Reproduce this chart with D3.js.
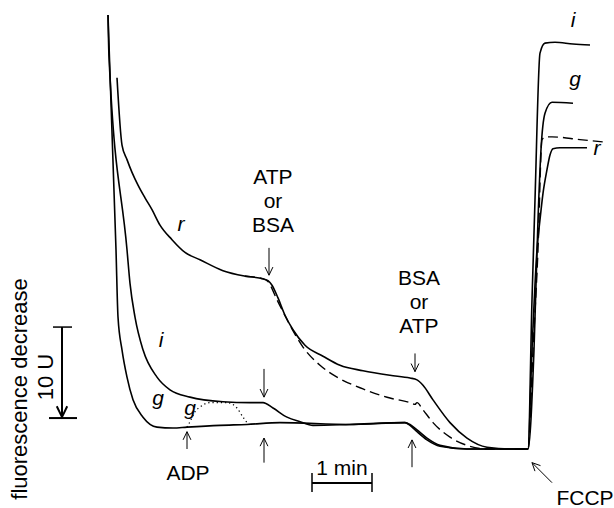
<!DOCTYPE html>
<html>
<head>
<meta charset="utf-8">
<script src="https://cdn.jsdelivr.net/npm/d3@7"></script>
<style>
  body { margin: 0; background: #fff; }
  text { font-family: "Liberation Sans", Arial, sans-serif; fill: #000; }
</style>
</head>
<body>
<svg></svg>
<script>
const width = 614;
const height = 508;

// time in s, fluorescence in U (relative to final baseline)
const traceG = [[0,47.7],[8,21.9],[10,14.5],[14,10.9],[19,7.9],[25,5.4],[35,3.5],[49,2.4],[65,2.3],[79,2.4],
  [112,2.6],[139,2.7],[172,2.9],[242,2.7],[297,2.9],[302,2.7],[309,2.1],[319,1.2],[332,0.4],[359,0],[392,0],
  [419,0],[420,0],[426,10.9],[430,25.2],[433,32.9],[437,36.9],[444,38.1],[465,38.0]];
const traceI = [[0,47.7],[1,43.1],[19,21.9],[22,18.2],[27,14.5],[35,10.9],[49,7.9],[62,6.5],[82,5.7],[115,5.2],
  [142,5.1],[155,5.1],[165,4.5],[179,3.5],[192,3.0],[205,2.6],[242,2.7],[297,2.9],[302,2.6],[309,1.9],[319,1.0],
  [332,0.3],[359,0],[419,0],[420,0],[424,16.4],[427,27.4],[432,43.5],[437,44.6],[447,44.7],[465,44.5],[482,44.4]];
const traceR = [[9,40.8],[14,33.4],[19,31.8],[24,30.4],[30,29.0],[37,27.6],[44,26.3],[52,24.6],[64,23.0],[77,21.6],
  [92,20.8],[115,19.6],[137,19.0],[155,18.7],[160,18.5],[164,18.0],[170,16.6],[177,14.7],[185,13.1],[197,11.4],
  [215,10.2],[232,9.2],[255,8.6],[282,8.1],[302,7.8],[309,7.6],[315,7.0],[325,5.4],[342,2.9],[359,1.2],[379,0.2],
  [402,0],[419,0],[420,0],[424,10.9],[429,21.9],[432,25.2],[435,28.1],[439,30.7],[442,32.3],[445,33.0],[452,33.1],[479,33.1]];
const traceDashed = [[137,19.0],[155,18.7],[160,18.4],[169,16.4],[182,13.6],[195,11.2],[212,9.2],[229,7.9],[255,6.6],
  [282,5.6],[302,5.1],[307,4.9],[309,5.1],[315,4.3],[325,2.9],[342,1.3],[359,0.4],[379,0],[419,0],[420,0],
  [425,10.9],[430,21.9],[434,34.0],[438,34.3],[444,34.3],[472,34.0],[499,33.7]];
const traceDotted = [[79,2.4],[82,3.0],[87,4.1],[92,4.6],[102,5.1],[119,5.1],[129,4.5],[135,3.5],[139,2.9]];

// additions: time, U from, U to, label lines
const arrowsDown = [
  { t: 161, from: 22.1, to: 19.1, label: ["ATP", "or", "BSA"], top: 184 },
  { t: 307, from: 10.5, to: 8.5, label: ["BSA", "or", "ATP"], top: 285 },
  { t: 156, from: 8.8, to: 5.7 }
];
const arrowsUp = [
  { t: 79, from: 0, to: 1.9, label: "ADP" },
  { t: 156, from: -1.5, to: 1.2 },
  { t: 304, from: -2.0, to: 1.0 }
];
const curveLabels = [
  { text: "r", t: 73, u: 24.0 }, { text: "i", t: 53, u: 11.2 }, { text: "g", t: 50, u: 4.8 },
  { text: "g", t: 82, u: 3.7 }, { text: "i", t: 465, u: 46.4 }, { text: "g", t: 467, u: 39.9 },
  { text: "r", t: 489, u: 32.3 }
];

const x = d3.scaleLinear().domain([0, 500]).range([108, 608]);
const y = d3.scaleLinear().domain([0, 48]).range([449, 12.2]);

const svg = d3.select('svg')
  .attr('width', width)
  .attr('height', height);

const line = d3.line()
  .x(d => x(d[0]))
  .y(d => y(d[1]))
  .curve(d3.curveMonotoneX);

const traces = [
  { data: traceG, dash: null, w: 1.6 },
  { data: traceI, dash: null, w: 1.6 },
  { data: traceR, dash: null, w: 1.6 },
  { data: traceDashed, dash: '10,5', w: 1.4 },
  { data: traceDotted, dash: '1.2,3', w: 1.3 }
];

svg.selectAll('path.trace').data(traces)
  .enter().append('path')
    .attr('class', 'trace')
    .attr('d', d => line(d.data))
    .attr('fill', 'none')
    .attr('stroke', '#000')
    .attr('stroke-width', d => d.w)
    .attr('stroke-linejoin', 'round')
    .attr('stroke-dasharray', d => d.dash);

function arrow(g, x1, y1, x2, y2, head, w) {
  g.append('line')
    .attr('x1', x1).attr('y1', y1).attr('x2', x2).attr('y2', y2)
    .attr('stroke', '#000').attr('stroke-width', w);
  const a = Math.atan2(y2 - y1, x2 - x1);
  const pts = [-0.45, 0.45].map(da => [x2 - head * Math.cos(a + da), y2 - head * Math.sin(a + da)]);
  g.append('path')
    .attr('d', `M${pts[0]}L${x2},${y2}L${pts[1]}`)
    .attr('fill', 'none').attr('stroke', '#000').attr('stroke-width', w);
}

const ann = svg.append('g');

arrowsDown.forEach(d => {
  arrow(ann, x(d.t), y(d.from), x(d.t), y(d.to), 9, 1);
  if (d.label) {
    ann.selectAll(null).data(d.label).enter().append('text')
      .attr('x', x(d.t) + 4)
      .attr('y', (s, i) => d.top + i * 24)
      .attr('text-anchor', 'middle')
      .style('font-size', '21px')
      .text(s => s);
  }
});

arrowsUp.forEach(d => {
  arrow(ann, x(d.t), y(d.from), x(d.t), y(d.to), 9, 1);
  if (d.label) {
    ann.append('text')
      .attr('x', x(d.t) + 1).attr('y', 480)
      .attr('text-anchor', 'middle')
      .style('font-size', '21px')
      .text(d.label);
  }
});

// FCCP
arrow(ann, x(444), y(-3.7), x(424), y(-1.5), 9, 1);
ann.append('text')
  .attr('x', 585).attr('y', 505)
  .attr('text-anchor', 'middle')
  .style('font-size', '21px')
  .text('FCCP');

ann.selectAll('text.lab').data(curveLabels)
  .enter().append('text')
    .attr('class', 'lab')
    .attr('x', d => x(d.t))
    .attr('y', d => y(d.u))
    .attr('text-anchor', 'middle')
    .style('font-size', '21px')
    .style('font-style', 'italic')
    .text(d => d.text);

// time scale bar: 1 min
const tb0 = 204, tbY = 483;
const tbar = svg.append('g');
tbar.append('line')
  .attr('x1', x(tb0)).attr('x2', x(tb0 + 60)).attr('y1', tbY).attr('y2', tbY)
  .attr('stroke', '#000').attr('stroke-width', 2);
[tb0, tb0 + 60].forEach(t => {
  tbar.append('line')
    .attr('x1', x(t)).attr('x2', x(t)).attr('y1', tbY - 10).attr('y2', tbY + 9)
    .attr('stroke', '#000').attr('stroke-width', 1.5);
});
tbar.append('text')
  .attr('x', x(tb0 + 30)).attr('y', 475)
  .attr('text-anchor', 'middle')
  .style('font-size', '21px')
  .text('1 min');

// fluorescence scale bar: 10 U
const fb0 = 13.4, fbX = 62;
const fbar = svg.append('g');
fbar.append('line')
  .attr('x1', 53).attr('x2', 72).attr('y1', y(fb0)).attr('y2', y(fb0))
  .attr('stroke', '#000').attr('stroke-width', 1.5);
fbar.append('line')
  .attr('x1', 49).attr('x2', 77).attr('y1', y(fb0 - 10)).attr('y2', y(fb0 - 10))
  .attr('stroke', '#000').attr('stroke-width', 2);
arrow(fbar, fbX, y(fb0), fbX, y(fb0 - 10) - 1, 12, 2);

svg.append('text')
  .attr('transform', `translate(27,389) rotate(-90)`)
  .attr('text-anchor', 'middle')
  .style('font-size', '22px')
  .text('fluorescence decrease');
svg.append('text')
  .attr('transform', `translate(53,377) rotate(-90)`)
  .attr('text-anchor', 'middle')
  .style('font-size', '22px')
  .text('10 U');
</script>
</body>
</html>
